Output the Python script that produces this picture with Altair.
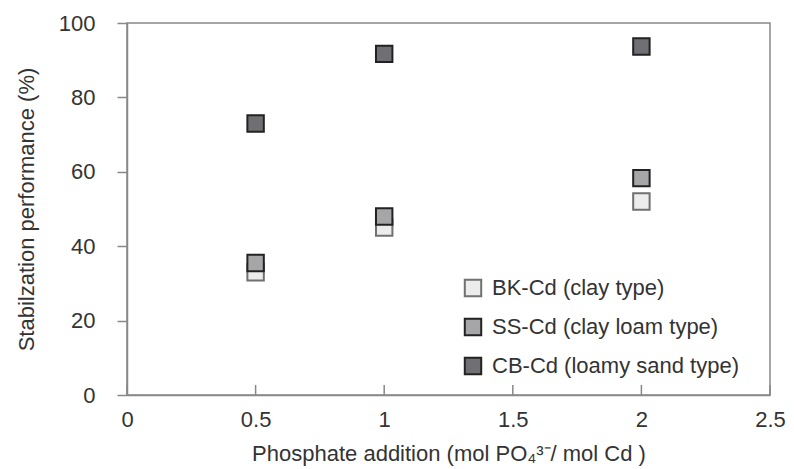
import altair as alt
import pandas as pd

x_vals = [0.5, 1, 2]
bk = [33, 45, 52]
ss = [35.5, 48, 58.3]
cb = [73, 91.7, 93.7]
series = ["BK-Cd (clay type)", "SS-Cd (clay loam type)", "CB-Cd (loamy sand type)"]
fills = ["#ececec", "#a6a6a8", "#707074"]
strokes = ["#707070", "#222222", "#222222"]
x_ticks = [0, 0.5, 1, 1.5, 2, 2.5]
y_ticks = [0, 20, 40, 60, 80, 100]
inner_tick_len = 2.7  # in y data units (~10 px)

rows = []
for name, vals in zip(series, [bk, ss, cb]):
    for xv, yv in zip(x_vals, vals):
        rows.append({"x": xv, "y": yv, "series": name})
df = pd.DataFrame(rows)
ticks_df = pd.DataFrame({"x": x_ticks})

font = "Liberation Sans"
tc = "#333333"
W, H = 643, 372
FS = 22

xscale = alt.Scale(domain=[0, 2.5], nice=False)
yscale = alt.Scale(domain=[0, 100], nice=False)

points = alt.Chart(df).mark_point(shape="square", filled=True, size=270, strokeWidth=2, opacity=1).encode(
    x=alt.X("x:Q", scale=xscale,
            axis=alt.Axis(values=x_ticks, format="~g", title="Phosphate addition (mol PO\u2084\u00b3\u207b/ mol Cd )",
                          ticks=False, labelPadding=14, titlePadding=13, grid=False, labelFlush=False)),
    y=alt.Y("y:Q", scale=yscale,
            axis=alt.Axis(values=y_ticks, title="Stabilzation performance (%)",
                          tickSize=10, labelPadding=22, titlePadding=20, grid=False, labelFlush=False)),
    fill=alt.Fill("series:N", scale=alt.Scale(domain=series, range=fills),
                  legend=alt.Legend(title=None, orient="none", legendX=335, legendY=254,
                                    symbolSize=270, symbolStrokeWidth=2, labelFontSize=FS,
                                    labelFont=font, labelColor=tc, rowPadding=13, labelOffset=8,
                                    labelLimit=400, symbolType="square")),
    stroke=alt.Stroke("series:N", scale=alt.Scale(domain=series, range=strokes), legend=None),
)

inner_ticks = alt.Chart(ticks_df).mark_rule(color="#888888", strokeWidth=1.5).encode(
    x=alt.X("x:Q", scale=xscale),
    y=alt.datum(0),
    y2=alt.datum(inner_tick_len),
)

chart = alt.layer(points, inner_ticks).properties(
    width=W, height=H,
    autosize=alt.AutoSizeParams(type="none"),
    padding={"left": 119, "top": 15, "right": 16, "bottom": 74},
).configure_view(
    stroke="#888888", strokeWidth=1.5
).configure_axis(
    domainColor="#888888", domainWidth=1.5, tickColor="#888888", tickWidth=1.5,
    labelFont=font, titleFont=font, labelFontSize=FS, titleFontSize=FS,
    labelColor=tc, titleColor=tc, titleFontWeight="normal"
)

chart.save("out.html", embed_options={"renderer": "svg", "actions": False})
